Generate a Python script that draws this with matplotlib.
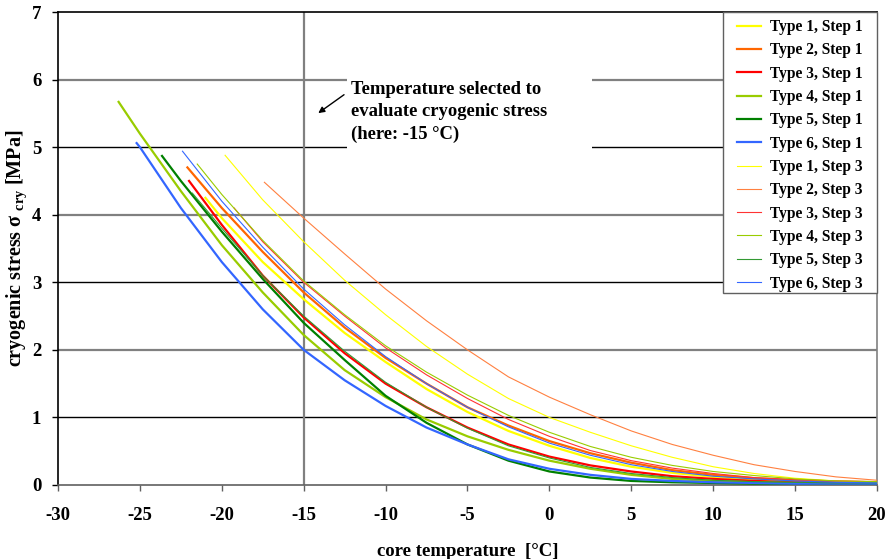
import numpy as np
import matplotlib
matplotlib.use("Agg")
import matplotlib.pyplot as plt
from matplotlib.patches import Rectangle

plt.rcParams['font.family'] = ['Liberation Serif', 'DejaVu Serif']
plt.rcParams['font.weight'] = 'bold'
plt.rcParams['mathtext.fontset'] = 'custom'
plt.rcParams['mathtext.rm'] = 'Liberation Serif'
plt.rcParams['axes.unicode_minus'] = False

# temperature grid the curves were read on [°C]
grid_t = [-25, -22.5, -20, -17.5, -15, -12.5, -10, -7.5, -5, -2.5,
          0, 2.5, 5, 7.5, 10, 12.5, 15, 17.5, 20]

# each curve: first point (t, sigma) then sigma on the grid points after it
t1s1_start = (-21.0, 4.25)
t1s1 = [3.95, 3.3, 2.75, 2.25, 1.82, 1.42, 1.08, 0.8, 0.58, 0.4, 0.27, 0.18,
        0.12, 0.08, 0.05, 0.04, 0.03]
t2s1_start = (-22.1, 4.7)
t2s1 = [4.1, 3.45, 2.85, 2.33, 1.88, 1.5, 1.15, 0.88, 0.65, 0.47, 0.33, 0.22,
        0.15, 0.1, 0.07, 0.05, 0.04]
t3s1_start = (-22.0, 4.5)
t3s1 = [3.85, 3.1, 2.48, 1.95, 1.5, 1.15, 0.85, 0.6, 0.42, 0.29, 0.2, 0.13,
        0.09, 0.06, 0.04, 0.03, 0.03]
t4s1_start = (-26.3, 5.67)
t4s1 = [5.2, 4.35, 3.55, 2.85, 2.22, 1.7, 1.3, 0.97, 0.72, 0.52, 0.36, 0.24,
        0.15, 0.09, 0.06, 0.04, 0.03, 0.02, 0.02]
t5s1_start = (-23.65, 4.87)
t5s1 = [4.5, 3.75, 3.05, 2.4, 1.85, 1.32, 0.92, 0.6, 0.36, 0.2, 0.11, 0.06,
        0.04, 0.03, 0.02, 0.02, 0.02, 0.02]
t6s1_start = (-25.2, 5.06)
t6s1 = [5.0, 4.1, 3.3, 2.6, 2.0, 1.55, 1.17, 0.85, 0.6, 0.38, 0.24, 0.15,
        0.09, 0.06, 0.04, 0.03, 0.02, 0.02, 0.02]

t1s3_start = (-19.8, 4.88)
t1s3 = [4.22, 3.6, 3.03, 2.52, 2.05, 1.64, 1.28, 1.0, 0.78, 0.58, 0.41, 0.27,
        0.17, 0.1, 0.06, 0.04]
t2s3_start = (-17.4, 4.48)
t2s3 = [3.95, 3.42, 2.9, 2.43, 2.0, 1.6, 1.3, 1.04, 0.8, 0.6, 0.44, 0.3,
        0.2, 0.12, 0.07]
t3s3_start = (-19.25, 4.1)
t3s3 = [3.6, 3.0, 2.5, 2.03, 1.63, 1.28, 0.97, 0.72, 0.51, 0.36, 0.25, 0.17,
        0.11, 0.08, 0.06, 0.05]
t4s3_start = (-21.5, 4.75)
t4s3 = [4.3, 3.62, 3.02, 2.52, 2.06, 1.67, 1.33, 1.03, 0.78, 0.57, 0.41, 0.29,
        0.2, 0.14, 0.09, 0.06, 0.05]
t5s3_start = (-21.8, 4.32)
t5s3 = [3.8, 3.1, 2.5, 1.98, 1.52, 1.15, 0.84, 0.58, 0.4, 0.26, 0.17, 0.11,
        0.07, 0.05, 0.04, 0.03, 0.03]
t6s3_start = (-22.4, 4.94)
t6s3 = [4.2, 3.52, 2.9, 2.37, 1.9, 1.5, 1.15, 0.86, 0.62, 0.44, 0.3, 0.2,
        0.13, 0.09, 0.06, 0.04, 0.03]

labels = ['Type 1, Step 1', 'Type 2, Step 1', 'Type 3, Step 1',
          'Type 4, Step 1', 'Type 5, Step 1', 'Type 6, Step 1',
          'Type 1, Step 3', 'Type 2, Step 3', 'Type 3, Step 3',
          'Type 4, Step 3', 'Type 5, Step 3', 'Type 6, Step 3']
series = [(t1s1_start, t1s1), (t2s1_start, t2s1), (t3s1_start, t3s1),
          (t4s1_start, t4s1), (t5s1_start, t5s1), (t6s1_start, t6s1),
          (t1s3_start, t1s3), (t2s3_start, t2s3), (t3s3_start, t3s3),
          (t4s3_start, t4s3), (t5s3_start, t5s3), (t6s3_start, t6s3)]
colors = ['#FFFF00', '#FF6600', '#FF0000', '#99CC00', '#008000', '#3366FF',
          '#FFFF00', '#FF8040', '#FF3333', '#99CC00', '#339933', '#3366FF']
widths = [1.6] * 6 + [0.8] * 6

selected_t = -15
annot = "Temperature selected to\nevaluate cryogenic stress\n(here: -15 °C)"

fig = plt.figure(figsize=(8.87, 5.59), dpi=100)
ax = fig.add_axes([0.0654, 0.1324, 0.9233, 0.8461])

# horizontal grid lines, alternating grey / black as in the original
for i, yv in enumerate(range(1, 7)):
    ax.axhline(yv, color='black' if i % 2 == 0 else '#808080',
               lw=1.0 if i % 2 == 0 else 1.6, zorder=1)
ax.axvline(selected_t, color='#808080', lw=1.6, zorder=1)

for (start, vals), lab, col, lw in zip(series, labels, colors, widths):
    ts = [start[0]] + [g for g in grid_t if g > start[0]]
    ss = [start[1]] + vals
    ax.plot(ts, ss, color=col, lw=lw, label=lab, zorder=3)

ax.set_xlim(-30, 20)
ax.set_ylim(0, 7)
ax.set_xticks(np.arange(-30, 21, 5))
ax.set_yticks(np.arange(0, 8, 1))
ax.tick_params(axis='x', direction='out', length=4, width=1, color='#606060',
               labelsize=13.5, pad=12)
ax.tick_params(axis='y', direction='out', length=4, width=1, color='black',
               labelsize=13.5, pad=8)
for lab in ax.get_xticklabels() + ax.get_yticklabels():
    lab.set_fontweight('bold')

ax.spines['top'].set_color('black')
ax.spines['left'].set_color('black')
ax.spines['bottom'].set_color('#606060')
ax.spines['right'].set_color('#808080')
for sp in ax.spines.values():
    sp.set_linewidth(1.2)

ax.set_xlabel('core temperature  [°C]', fontsize=13.5, fontweight='bold')
ax.xaxis.set_label_coords(0.5, -0.122)
ax.set_ylabel(r'cryogenic stress σ $_{\mathrm{cry}}$ [MPa]', fontsize=14.5,
              fontweight='bold')
ax.yaxis.set_label_coords(-0.036, 0.5)

# white box behind the annotation text
ax.add_patch(Rectangle((0.353, 0.70), 0.299, 0.172, transform=ax.transAxes,
                       facecolor='white', edgecolor='none', zorder=2))
ax.text(-12.1, 5.98, annot, fontsize=13.4, fontweight='bold', va='top',
        ha='left', linespacing=1.42, zorder=4)
ax.annotate('', xy=(-14.25, 5.48), xytext=(-12.4, 5.8),
            arrowprops=dict(arrowstyle='-|>', color='black', lw=1.0,
                            mutation_scale=9), zorder=4)

# legend frame drawn separately so its padding can match the original
ax.add_patch(Rectangle((0.812, 0.406), 0.188, 0.594, transform=ax.transAxes,
                       facecolor='white', edgecolor='#606060', lw=1.0,
                       zorder=4.5, clip_on=False))
leg = ax.legend(loc='upper right', bbox_to_anchor=(0.983, 0.985),
                borderaxespad=0, borderpad=0, fontsize=11.2, frameon=False,
                labelspacing=0.47, handlelength=1.5, handletextpad=0.62)
for t in leg.get_texts():
    t.set_fontweight('bold')
leg.set_zorder(5)

fig.savefig('out.png', dpi=100)
